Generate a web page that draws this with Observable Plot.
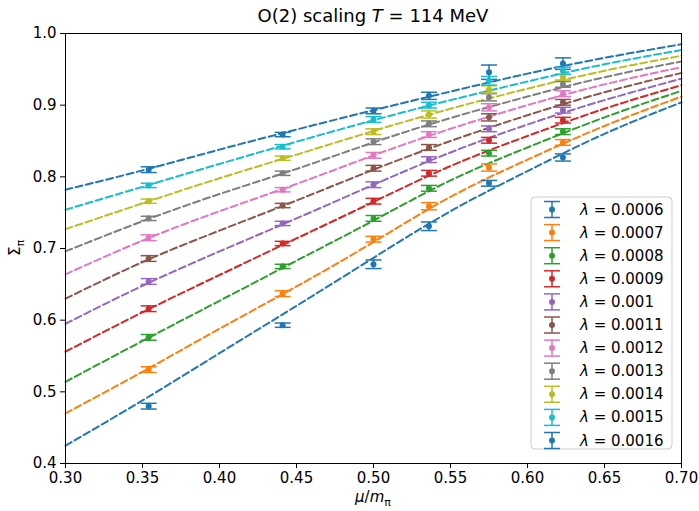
<!DOCTYPE html>
<html><head><meta charset="utf-8">
<script src="https://cdn.jsdelivr.net/npm/d3@7"></script>
<script src="https://cdn.jsdelivr.net/npm/@observablehq/plot@0.6"></script>
<style>body{margin:0;background:#fff;} #chart{width:699px;height:511px;}</style>
</head><body><div id="chart"></div>
<script>
// ---- data ----
const lambdas = ["0.0006","0.0007","0.0008","0.0009","0.001","0.0011","0.0012","0.0013","0.0014","0.0015","0.0016"];
const colors  = ["#1f77b4","#ff7f0e","#2ca02c","#d62728","#9467bd","#8c564b","#e377c2","#7f7f7f","#bcbd22","#17becf","#1f77b4"];
const xTicks = [0.30,0.35,0.40,0.45,0.50,0.55,0.60,0.65,0.70];
const yTicks = [0.4,0.5,0.6,0.7,0.8,0.9,1.0];

// measured points (mu/m_pi)
const xPoints = [0.354, 0.441, 0.500, 0.536, 0.575, 0.623];
const pts_0006 = [0.480,0.593,0.678,0.731,0.791,0.827];
const pts_0007 = [0.531,0.637,0.713,0.759,0.813,0.848];
const pts_0008 = [0.576,0.675,0.742,0.784,0.833,0.863];
const pts_0009 = [0.616,0.707,0.766,0.805,0.851,0.879];
const pts_0010 = [0.654,0.735,0.789,0.824,0.867,0.893];
const pts_0011 = [0.686,0.760,0.812,0.841,0.883,0.904];
const pts_0012 = [0.715,0.782,0.830,0.859,0.897,0.916];
const pts_0013 = [0.742,0.805,0.849,0.874,0.911,0.929];
const pts_0014 = [0.766,0.826,0.863,0.887,0.922,0.939];
const pts_0015 = [0.788,0.842,0.880,0.900,0.934,0.948];
const pts_0016 = [0.810,0.859,0.892,0.913,0.946,0.958];

const err_0006 = [0.004,0.003,0.006,0.006,0.004,0.005];
const err_0007 = [0.004,0.004,0.004,0.005,0.005,0.004];
const err_0008 = [0.004,0.003,0.004,0.004,0.004,0.004];
const err_0009 = [0.004,0.003,0.004,0.004,0.004,0.004];
const err_0010 = [0.004,0.003,0.004,0.004,0.004,0.004];
const err_0011 = [0.004,0.003,0.004,0.004,0.005,0.004];
const err_0012 = [0.004,0.003,0.004,0.004,0.005,0.004];
const err_0013 = [0.003,0.003,0.004,0.004,0.005,0.004];
const err_0014 = [0.003,0.003,0.004,0.005,0.005,0.004];
const err_0015 = [0.003,0.003,0.004,0.004,0.006,0.005];
const err_0016 = [0.004,0.003,0.004,0.005,0.010,0.008];

// fit curves
const xFit = [0.30,0.35,0.40,0.45,0.50,0.55,0.60,0.65,0.70];
const fit_0006 = [0.425,0.488,0.554,0.620,0.687,0.752,0.808,0.860,0.904];
const fit_0007 = [0.470,0.528,0.588,0.647,0.709,0.772,0.824,0.871,0.912];
const fit_0008 = [0.514,0.571,0.627,0.683,0.739,0.795,0.841,0.883,0.920];
const fit_0009 = [0.556,0.611,0.663,0.714,0.765,0.815,0.857,0.895,0.928];
const fit_0010 = [0.595,0.648,0.696,0.742,0.789,0.834,0.873,0.907,0.937];
const fit_0011 = [0.630,0.681,0.725,0.767,0.810,0.850,0.886,0.918,0.945];
const fit_0012 = [0.664,0.711,0.752,0.790,0.830,0.867,0.900,0.929,0.953];
const fit_0013 = [0.696,0.738,0.776,0.811,0.848,0.882,0.912,0.939,0.961];
const fit_0014 = [0.727,0.763,0.798,0.831,0.864,0.895,0.923,0.948,0.969];
const fit_0015 = [0.754,0.786,0.818,0.849,0.879,0.907,0.933,0.957,0.977];
const fit_0016 = [0.782,0.809,0.838,0.866,0.893,0.919,0.944,0.966,0.985];

const ptsAll = [pts_0006,pts_0007,pts_0008,pts_0009,pts_0010,pts_0011,pts_0012,pts_0013,pts_0014,pts_0015,pts_0016];
const errAll = [err_0006,err_0007,err_0008,err_0009,err_0010,err_0011,err_0012,err_0013,err_0014,err_0015,err_0016];
const fitAll = [fit_0006,fit_0007,fit_0008,fit_0009,fit_0010,fit_0011,fit_0012,fit_0013,fit_0014,fit_0015,fit_0016];

const pointRows = [], fitRows = [];
lambdas.forEach((lam, i) => {
  xPoints.forEach((x, j) => pointRows.push({lambda: lam, x, y: ptsAll[i][j], e: errAll[i][j]}));
  xFit.forEach((x, j) => fitRows.push({lambda: lam, x, y: fitAll[i][j]}));
});

const capSymbol = {draw(ctx){ ctx.moveTo(-8,0); ctx.lineTo(8,0); }};
const FONT = "DejaVu Sans";

const plot = Plot.plot({
  width: 699, height: 511,
  marginLeft: 65, marginRight: 18, marginTop: 33, marginBottom: 48,
  style: {fontFamily: FONT, fontSize: "15px", background: "white", color: "black"},
  x: {domain: [0.3, 0.7]},
  y: {domain: [0.4, 1.0]},
  color: {type: "ordinal", domain: lambdas, range: colors},
  marks: [
    Plot.line(fitRows, {x: "x", y: "y", z: "lambda", stroke: "lambda", strokeWidth: 2,
      strokeDasharray: "7,3.5", curve: "natural"}),
    Plot.ruleX(pointRows, {x: "x", y1: d => d.y - d.e, y2: d => d.y + d.e, stroke: "lambda", strokeWidth: 1.5}),
    Plot.dot(pointRows, {x: "x", y: d => d.y + d.e, symbol: capSymbol, stroke: "lambda", fill: "none", strokeWidth: 1.5}),
    Plot.dot(pointRows, {x: "x", y: d => d.y - d.e, symbol: capSymbol, stroke: "lambda", fill: "none", strokeWidth: 1.5}),
    Plot.dot(pointRows, {x: "x", y: "y", r: 3, fill: "lambda", stroke: null}),
    Plot.axisX({ticks: xTicks, tickFormat: d3.format(".2f"), tickSize: 5, tickPadding: 4, label: null, fontSize: 15}),
    Plot.axisY({ticks: yTicks, tickFormat: d3.format(".1f"), tickSize: 5, tickPadding: 4, label: null, fontSize: 15}),
    Plot.frame({stroke: "black", strokeWidth: 1})
  ]
});
document.getElementById("chart").appendChild(plot);

// ---- title, axis labels, legend ----
const svg = d3.select(plot);
const title = svg.append("text").attr("x", 373).attr("y", 22).attr("text-anchor", "middle")
  .attr("font-family", FONT).attr("font-size", 18).attr("fill", "black");
title.append("tspan").text("O(2) scaling ");
title.append("tspan").attr("font-style", "italic").text("T");
title.append("tspan").text(" = 114 MeV");

const xl = svg.append("text").attr("x", 373).attr("y", 502).attr("text-anchor", "middle")
  .attr("font-family", FONT).attr("font-size", 15).attr("fill", "black");
xl.append("tspan").attr("font-style", "italic").text("μ");
xl.append("tspan").text("/");
xl.append("tspan").attr("font-style", "italic").text("m");
xl.append("tspan").attr("font-size", 11).attr("dy", 4).text("π");

const yl = svg.append("text").attr("transform", "translate(20,248) rotate(-90)").attr("text-anchor", "middle")
  .attr("font-family", FONT).attr("font-size", 15).attr("fill", "black");
yl.append("tspan").text("Σ");
yl.append("tspan").attr("font-size", 11).attr("dy", 4).text("π");

const lg = svg.append("g");
lg.append("rect").attr("x", 531).attr("y", 197).attr("width", 141).attr("height", 252).attr("rx", 4)
  .attr("fill", "white").attr("fill-opacity", 0.85).attr("stroke", "#cccccc");
lambdas.forEach((lam, i) => {
  const cy = 209.5 + i * 23.1, c = colors[i], gx = 552;
  lg.append("line").attr("x1", gx).attr("x2", gx).attr("y1", cy - 8).attr("y2", cy + 8).attr("stroke", c).attr("stroke-width", 1.5);
  lg.append("line").attr("x1", gx - 8).attr("x2", gx + 8).attr("y1", cy - 8).attr("y2", cy - 8).attr("stroke", c).attr("stroke-width", 1.5);
  lg.append("line").attr("x1", gx - 8).attr("x2", gx + 8).attr("y1", cy + 8).attr("y2", cy + 8).attr("stroke", c).attr("stroke-width", 1.5);
  lg.append("circle").attr("cx", gx).attr("cy", cy).attr("r", 3).attr("fill", c);
  const t = lg.append("text").attr("x", 580).attr("y", cy + 5).attr("text-anchor", "start")
    .attr("font-family", FONT).attr("font-size", 15).attr("fill", "black");
  t.append("tspan").attr("font-style", "italic").text("λ");
  t.append("tspan").text(" = " + lam);
});
</script></body></html>
